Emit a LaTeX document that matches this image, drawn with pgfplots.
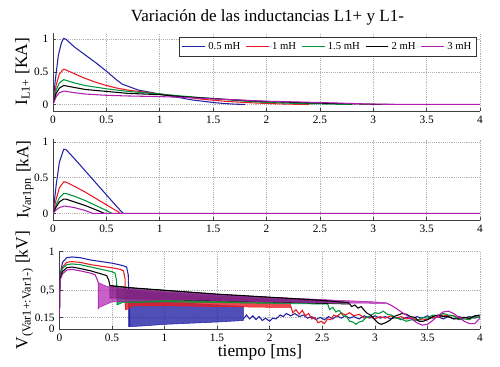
\documentclass[border=0pt]{standalone}
\usepackage{pgfplots}
\pgfplotsset{compat=1.18}
\usepackage{fontspec}
\setmainfont{Liberation Serif}
\definecolor{cBlue}{RGB}{35,35,165}
\definecolor{cRed}{RGB}{235,25,35}
\definecolor{cGreen}{RGB}{0,150,60}
\definecolor{cBlack}{RGB}{0,0,0}
\definecolor{cMag}{RGB}{175,30,175}
\pgfplotsset{
  myax/.style={
    scale only axis,
    anchor=south west,
    xmin=0, xmax=4,
    xtick={0,0.5,...,4},
    axis x line*=bottom, axis y line*=left,
    axis line style={black!75, line width=0.5pt},
    tick align=inside, major tick length=2.5pt,
    tick style={black!75, line width=0.4pt},
    grid=major,
    major grid style={densely dotted, black!30, line width=0.4pt},
    tick label style={font=\fontsize{8.5}{9}\selectfont},
    /pgf/number format/assume math mode=true,
    label style={font=\fontsize{13}{14}\selectfont},
    every axis plot/.append style={line width=0.8pt},
    clip=true,
  },
  band/.style={#1, fill=#1, fill opacity=0.8, line width=0.4pt},
}
\begin{document}
\begin{tikzpicture}
\path[use as bounding box] (0,0) rectangle (375pt,275.25pt);
\node[font=\fontsize{12.8}{14}\selectfont] at (200.6pt,262.3pt) {Variación de las inductancias L1+ y L1-};

% Panel 1
\begin{axis}[myax,
  at={(39.75pt,192pt)}, width=320.25pt, height=58.8pt,
  ymin=-0.1, ymax=1.1, ytick={0,0.5,1},
  ylabel={I\textsubscript{L1+} [KA]},
  ylabel style={at={(axis description cs:-0.072,0.5)}, anchor=center},
  legend style={at={(rel axis cs:0.993,0.94)}, anchor=north east,
    legend columns=5, font=\fontsize{8}{9}\selectfont, draw=black!80,
    line width=0.6pt, fill=white, inner xsep=2pt, inner ysep=1.5pt,
    /tikz/every even column/.append style={column sep=2pt}},
  legend image code/.code={\draw[#1] (0pt,0pt) -- (17pt,0pt);},
]
\addplot[cBlue] coordinates {(0,0)(0.02,0.35)(0.05,0.75)(0.08,0.95)(0.1,1.01)(0.12,1.0)(0.2,0.88)(0.3,0.76)(0.4,0.64)(0.5,0.51)(0.6,0.37)(0.65,0.31)(0.7,0.28)(0.8,0.22)(0.9,0.19)(1.0,0.16)(1.1,0.13)(1.2,0.1)(1.3,0.07)(1.4,0.05)(1.5,0.03)(1.6,0.015)(1.7,0.005)(1.8,0)};
\addlegendentry{0.5 mH}
\addplot[cRed] coordinates {(0,0)(0.03,0.3)(0.06,0.47)(0.1,0.54)(0.12,0.53)(0.2,0.47)(0.3,0.4)(0.4,0.34)(0.5,0.29)(0.6,0.25)(0.7,0.22)(0.8,0.2)(0.9,0.18)(1.0,0.16)(1.2,0.12)(1.4,0.08)(1.6,0.05)(1.8,0.03)(2.0,0.015)(2.2,0.005)(2.4,0)};
\addlegendentry{1 mH}
\addplot[cGreen] coordinates {(0,0)(0.03,0.22)(0.06,0.33)(0.1,0.38)(0.12,0.37)(0.2,0.33)(0.3,0.29)(0.5,0.24)(0.7,0.2)(1.0,0.16)(1.2,0.13)(1.5,0.09)(1.8,0.05)(2.0,0.03)(2.3,0.015)(2.6,0.005)(2.8,0)};
\addlegendentry{1.5 mH}
\addplot[cBlack] coordinates {(0,0)(0.03,0.17)(0.06,0.25)(0.1,0.29)(0.12,0.285)(0.2,0.26)(0.3,0.23)(0.5,0.2)(0.7,0.17)(1.0,0.15)(1.2,0.12)(1.5,0.09)(1.8,0.06)(2.0,0.045)(2.5,0.02)(2.8,0.01)(3.0,0.003)(3.2,0)};
\addlegendentry{2 mH}
\addplot[cMag] coordinates {(0,0)(0.03,0.12)(0.06,0.18)(0.1,0.205)(0.12,0.2)(0.2,0.18)(0.3,0.16)(0.5,0.14)(0.7,0.13)(1.0,0.12)(1.2,0.11)(1.5,0.085)(1.8,0.065)(2.0,0.05)(2.5,0.03)(2.8,0.015)(3.0,0.005)(3.3,0)(4,0)};
\addlegendentry{3 mH}
\end{axis}

% Panel 2
\begin{axis}[myax,
  at={(39.75pt,109.95pt)}, width=320.25pt, height=61.3pt,
  ymin=-0.1, ymax=1.05, ytick={0,0.5,1},
  ylabel={I\textsubscript{Var1pn} [kA]},
  ylabel style={at={(axis description cs:-0.066,0.5)}, anchor=center},
]
\addplot[cBlue] coordinates {(0,0)(0.03,0.4)(0.06,0.72)(0.1,0.9)(0.12,0.9)(0.2,0.77)(0.3,0.6)(0.4,0.43)(0.5,0.26)(0.6,0.09)(0.65,0.01)(0.66,0)};
\addplot[cRed] coordinates {(0,0)(0.03,0.2)(0.06,0.36)(0.1,0.44)(0.12,0.44)(0.2,0.38)(0.3,0.3)(0.4,0.21)(0.5,0.12)(0.6,0.03)(0.63,0)};
\addplot[cGreen] coordinates {(0,0)(0.03,0.12)(0.06,0.22)(0.1,0.28)(0.12,0.28)(0.2,0.24)(0.3,0.18)(0.4,0.11)(0.5,0.04)(0.55,0)};
\addplot[cBlack] coordinates {(0,0)(0.03,0.09)(0.06,0.16)(0.1,0.2)(0.12,0.2)(0.2,0.16)(0.3,0.11)(0.4,0.05)(0.48,0)};
\addplot[cMag] coordinates {(0,0)(0.03,0.05)(0.06,0.08)(0.1,0.1)(0.12,0.1)(0.2,0.08)(0.3,0.04)(0.37,0)(4,0)};
\end{axis}

% Panel 3
\begin{axis}[myax,
  at={(44.5pt,28.5pt)}, width=315.5pt, height=58.1pt,
  ymin=0, ymax=1, ytick={0,0.15,0.5,1}, yticklabels={0,0.15,{0,5},1},
  ylabel={V\textsubscript{(Var1+:Var1-)} [kV]},
  ylabel style={at={(axis description cs:-0.083,0.5)}, anchor=center},
  xlabel={tiempo [ms]},
  xlabel style={at={(axis description cs:0.477,-0.36)}, anchor=base},
]
% blue
\addplot[cBlue] coordinates {(0,0.15)(0.005,0.68)(0.03,0.86)(0.07,0.92)(0.12,0.93)(0.2,0.92)(0.3,0.89)(0.4,0.87)(0.5,0.85)(0.6,0.82)(0.64,0.8)(0.655,0.7)(0.66,0.5)(0.67,0.03)};
\addplot[band=cBlue] coordinates {(0.66,0.45)(0.8,0.38)(1.0,0.35)(1.5,0.31)(1.75,0.29)(1.75,0.11)(1.5,0.09)(1.0,0.06)(0.8,0.04)(0.66,0.03)} -- cycle;
\addplot[cBlue] coordinates {(1.75,0.13)(1.78,0.18)(1.81,0.13)(1.84,0.17)(1.87,0.12)(1.9,0.16)(1.93,0.11)(1.96,0.14)(2.0,0.1)(2.03,0.14)(2.06,0.13)(2.1,0.18)(2.13,0.16)(2.16,0.2)(2.2,0.17)(2.24,0.2)(2.28,0.16)(2.32,0.18)(2.36,0.14)(2.4,0.16)(2.44,0.12)(2.48,0.15)(2.52,0.12)(2.56,0.16)(2.6,0.13)(2.64,0.17)(2.68,0.14)(2.72,0.17)(2.76,0.14)(2.8,0.16)(2.85,0.13)(2.9,0.17)(2.95,0.14)(3.0,0.17)(3.05,0.14)(3.1,0.16)(3.15,0.13)(3.2,0.15)(3.25,0.12)(3.3,0.15)(3.35,0.13)(3.4,0.16)(3.45,0.14)(3.5,0.17)(3.55,0.14)(3.6,0.16)(3.65,0.13)(3.7,0.16)(3.75,0.13)(3.8,0.16)(3.85,0.14)(3.9,0.16)(3.95,0.14)(4,0.16)};
% red
\addplot[cRed] coordinates {(0,0.15)(0.005,0.66)(0.03,0.8)(0.07,0.86)(0.12,0.87)(0.2,0.86)(0.3,0.83)(0.4,0.81)(0.5,0.79)(0.58,0.77)(0.61,0.75)(0.625,0.65)(0.63,0.25)};
\addplot[band=cRed] coordinates {(0.63,0.5)(1.0,0.45)(1.5,0.41)(2.0,0.37)(2.2,0.36)(2.2,0.28)(2.0,0.28)(1.5,0.29)(1.0,0.3)(0.7,0.3)(0.64,0.25)(0.63,0.25)} -- cycle;
\addplot[cRed] coordinates {(2.2,0.3)(2.22,0.21)(2.25,0.25)(2.28,0.19)(2.31,0.24)(2.34,0.17)(2.37,0.2)(2.4,0.13)(2.43,0.15)(2.46,0.08)(2.49,0.1)(2.52,0.07)(2.55,0.13)(2.58,0.12)(2.61,0.18)(2.64,0.16)(2.68,0.21)(2.72,0.18)(2.76,0.21)(2.8,0.17)(2.85,0.19)(2.9,0.14)(2.95,0.16)(3.0,0.13)(3.05,0.16)(3.1,0.14)(3.15,0.17)(3.2,0.14)(3.25,0.16)(3.3,0.13)(3.35,0.14)(3.4,0.11)(3.45,0.13)(3.5,0.12)(3.55,0.15)(3.6,0.15)(3.65,0.18)(3.7,0.17)(3.75,0.17)(3.8,0.14)(3.85,0.15)(3.9,0.13)(3.95,0.16)(4,0.15)};
% green
\addplot[cGreen] coordinates {(0,0.15)(0.005,0.65)(0.03,0.78)(0.07,0.83)(0.12,0.84)(0.2,0.83)(0.3,0.8)(0.4,0.77)(0.5,0.74)(0.53,0.72)(0.545,0.62)(0.55,0.31)};
\addplot[band=cGreen] coordinates {(0.55,0.52)(1.0,0.47)(1.5,0.43)(2.0,0.39)(2.55,0.36)(2.55,0.32)(2.0,0.33)(1.0,0.35)(0.6,0.34)(0.55,0.31)} -- cycle;
\addplot[cGreen] coordinates {(2.55,0.33)(2.57,0.25)(2.6,0.28)(2.63,0.22)(2.66,0.24)(2.7,0.17)(2.73,0.16)(2.76,0.1)(2.79,0.09)(2.82,0.06)(2.85,0.09)(2.88,0.1)(2.92,0.15)(2.96,0.17)(3.0,0.21)(3.04,0.2)(3.08,0.23)(3.12,0.19)(3.16,0.18)(3.2,0.14)(3.25,0.13)(3.3,0.1)(3.35,0.12)(3.4,0.11)(3.45,0.15)(3.5,0.14)(3.55,0.18)(3.6,0.17)(3.65,0.2)(3.7,0.18)(3.75,0.17)(3.8,0.12)(3.85,0.13)(3.9,0.12)(3.95,0.16)(4,0.15)};
% black
\addplot[cBlack] coordinates {(0,0.15)(0.005,0.64)(0.03,0.74)(0.07,0.79)(0.12,0.8)(0.2,0.78)(0.3,0.75)(0.4,0.71)(0.45,0.69)(0.47,0.63)(0.48,0.56)};
\addplot[band=cBlack, fill opacity=0.55] coordinates {(0.48,0.56)(0.7,0.53)(1.0,0.5)(1.5,0.45)(2.0,0.41)(2.5,0.37)(2.75,0.34)(2.75,0.32)(2.0,0.35)(1.0,0.38)(0.5,0.4)(0.48,0.4)} -- cycle;
\addplot[cBlack] coordinates {(2.75,0.34)(2.78,0.29)(2.81,0.31)(2.84,0.27)(2.87,0.29)(2.9,0.24)(2.93,0.2)(2.96,0.18)(3.0,0.12)(3.03,0.08)(3.06,0.06)(3.1,0.08)(3.14,0.11)(3.18,0.16)(3.22,0.18)(3.26,0.2)(3.3,0.19)(3.34,0.16)(3.38,0.15)(3.42,0.1)(3.46,0.1)(3.5,0.12)(3.55,0.16)(3.6,0.18)(3.65,0.16)(3.7,0.16)(3.75,0.13)(3.8,0.13)(3.85,0.15)(3.9,0.14)(3.95,0.17)(4,0.18)};
% magenta
\addplot[cMag] coordinates {(0,0.15)(0.005,0.62)(0.03,0.71)(0.07,0.76)(0.12,0.77)(0.2,0.75)(0.3,0.72)(0.34,0.7)(0.36,0.64)(0.37,0.6)};
\addplot[band=cMag, fill opacity=0.7] coordinates {(0.37,0.6)(0.45,0.55)(0.6,0.52)(1.0,0.48)(1.5,0.44)(2.0,0.41)(2.5,0.38)(3.0,0.35)(3.1,0.34)(3.1,0.33)(2.5,0.34)(2.0,0.35)(1.5,0.37)(1.0,0.38)(0.5,0.35)(0.38,0.28)(0.37,0.26)} -- cycle;
\addplot[cMag] coordinates {(3.1,0.34)(3.15,0.31)(3.2,0.27)(3.25,0.22)(3.3,0.18)(3.35,0.13)(3.4,0.08)(3.45,0.05)(3.5,0.06)(3.55,0.11)(3.6,0.17)(3.65,0.22)(3.7,0.23)(3.75,0.2)(3.8,0.15)(3.85,0.1)(3.9,0.07)(3.95,0.07)(4,0.14)};
\addplot[cBlack] coordinates {(0.48,0.56)(0.7,0.53)(1.0,0.5)(1.5,0.45)(2.0,0.41)(2.5,0.37)(2.75,0.34)};
\end{axis}
\end{tikzpicture}
\end{document}
